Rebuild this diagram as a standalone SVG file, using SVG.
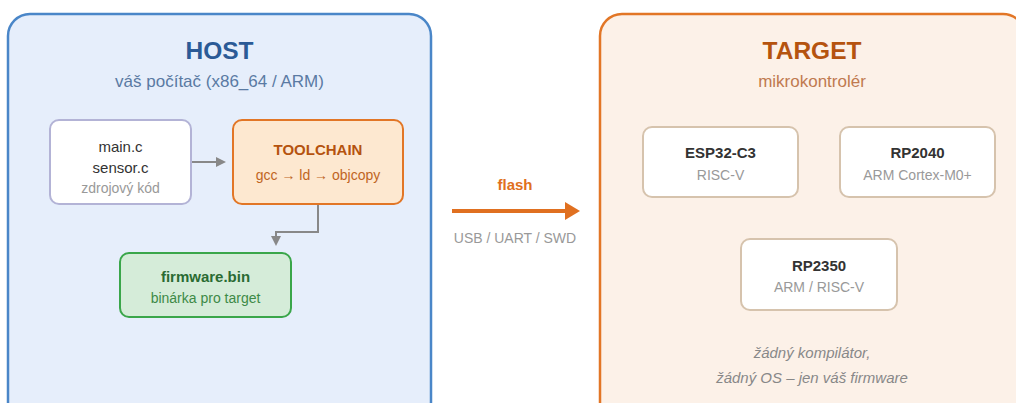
<svg xmlns="http://www.w3.org/2000/svg" width="1016" height="403" viewBox="0 0 1016 403">
<defs>
<style>
text{font-family:"Liberation Sans",Arial,sans-serif;text-anchor:middle}
.ptitle{font-size:24.5px;font-weight:bold}
.psub{font-size:17px}
.bt{font-size:15px;font-weight:bold}
.st{font-size:14px}
.chip{fill:#ffffff;stroke:#d6c3ad;stroke-width:2}
.conn{fill:none;stroke:#888888;stroke-width:2}
</style>
<marker id="ag" markerWidth="10" markerHeight="10" refX="8" refY="5" orient="auto" markerUnits="userSpaceOnUse">
<path d="M0,0 L10,5 L0,10 Z" fill="#888888"/>
</marker>
</defs>
<rect width="1016" height="403" fill="#ffffff"/>
<g id="host">
<rect x="8" y="14" width="423" height="410" rx="22" fill="#e6eefb" stroke="#4a86c8" stroke-width="2.5"/>
<text x="219.5" y="59" class="ptitle" fill="#2b5a96">HOST</text>
<text x="219.5" y="87" class="psub" fill="#5a7aa3">váš počítač (x86_64 / ARM)</text>
</g>
<g id="target">
<rect x="600" y="14" width="425" height="410" rx="22" fill="#fcf1e8" stroke="#e27626" stroke-width="2.5"/>
<text x="812" y="59" class="ptitle" fill="#b5530f">TARGET</text>
<text x="812" y="87" class="psub" fill="#c07a50">mikrokontrolér</text>
<text x="812" y="358" class="st" font-style="italic" font-size="15" fill="#888888" style="font-size:15px">žádný kompilátor,</text>
<text x="812" y="383" class="st" font-style="italic" fill="#888888" style="font-size:15px">žádný OS – jen váš firmware</text>
</g>
<g id="connectors">
<path class="conn" d="M191,162 H224" marker-end="url(#ag)"/>
<path class="conn" d="M318,204 V232 H276 V244" marker-end="url(#ag)"/>
<path d="M452,211 H566" stroke="#e07020" stroke-width="4" fill="none"/>
<path d="M565,202 L580,211 L565,220 Z" fill="#e07020"/>
<text x="515" y="190" class="bt" fill="#e07020">flash</text>
<text x="515" y="243" class="st" fill="#999999">USB / UART / SWD</text>
</g>
<g id="source">
<rect x="50" y="120" width="141" height="84" rx="9" fill="#ffffff" stroke="#b3b3d6" stroke-width="2"/>
<text x="120.5" y="152" style="font-size:15px" fill="#333333">main.c</text>
<text x="120.5" y="173" style="font-size:15px" fill="#333333">sensor.c</text>
<text x="120.5" y="193" class="st" fill="#999999">zdrojový kód</text>
</g>
<g id="toolchain">
<rect x="233" y="120" width="170" height="84" rx="9" fill="#fde8d0" stroke="#e27626" stroke-width="2"/>
<text x="318" y="155" class="bt" fill="#b5530f">TOOLCHAIN</text>
<text x="318" y="180" class="st" fill="#c0651f">gcc → ld → objcopy</text>
</g>
<g id="firmware">
<rect x="120" y="253" width="171" height="64" rx="9" fill="#d5ecd9" stroke="#3aa64a" stroke-width="2"/>
<text x="205.5" y="282" class="bt" fill="#2a6b33">firmware.bin</text>
<text x="205.5" y="303" class="st" fill="#3d8a47">binárka pro target</text>
</g>
<g id="esp32">
<rect x="643" y="127" width="155" height="70" rx="9" class="chip"/>
<text x="720.5" y="158" class="bt" fill="#333333">ESP32-C3</text>
<text x="720.5" y="180" class="st" fill="#999999">RISC-V</text>
</g>
<g id="rp2040">
<rect x="840" y="127" width="155" height="70" rx="9" class="chip"/>
<text x="917.5" y="158" class="bt" fill="#333333">RP2040</text>
<text x="917.5" y="180" class="st" fill="#999999">ARM Cortex-M0+</text>
</g>
<g id="rp2350">
<rect x="741" y="239" width="156" height="71" rx="9" class="chip"/>
<text x="819" y="271" class="bt" fill="#333333">RP2350</text>
<text x="819" y="292" class="st" fill="#999999">ARM / RISC-V</text>
</g>
</svg>
